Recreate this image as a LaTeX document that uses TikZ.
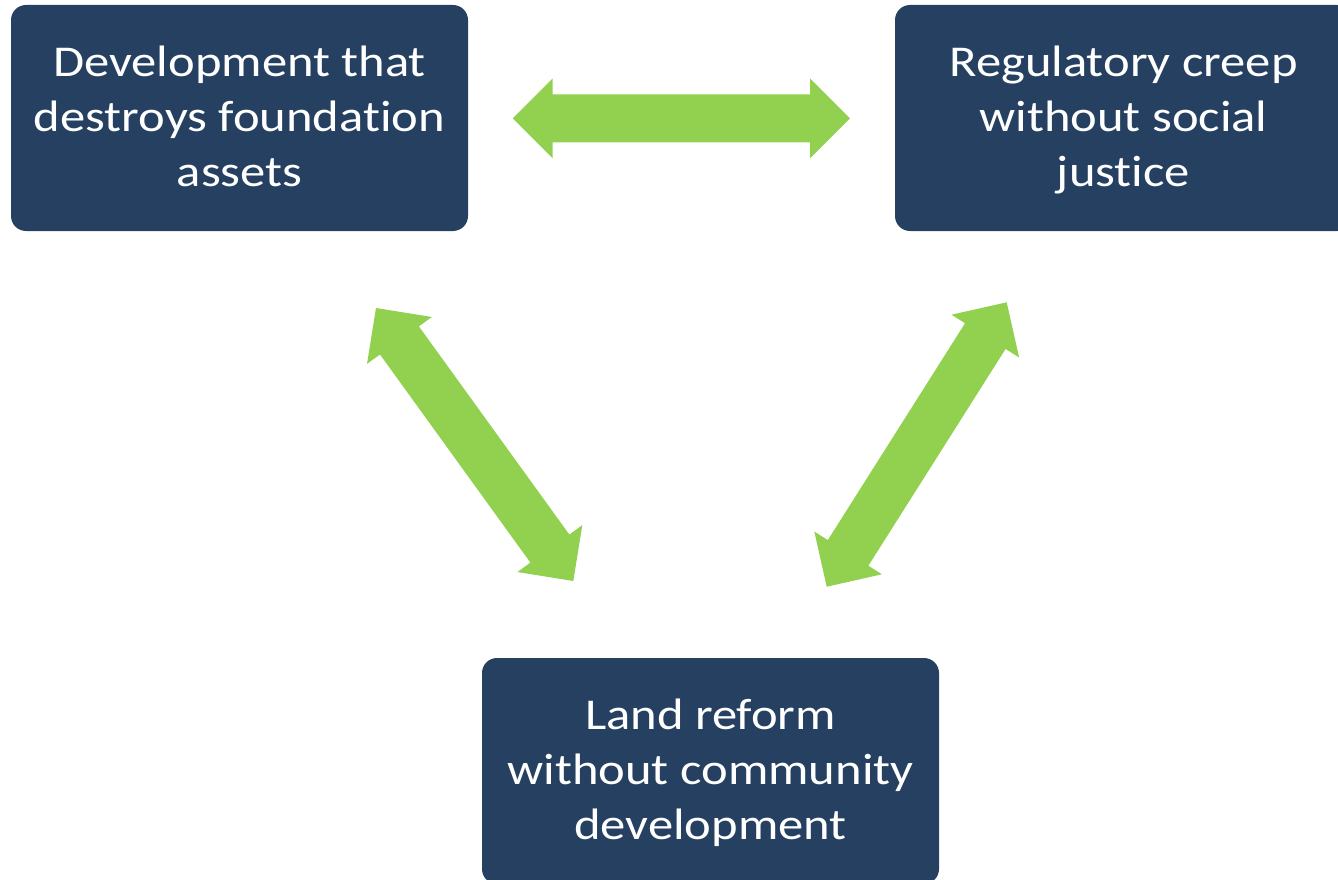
\documentclass[tikz,border=0pt]{standalone}
\usepackage{fontspec}
\setmainfont{Carlito}[FakeStretch=1.15, Ligatures={NoCommon}]
\usetikzlibrary{calc}
\definecolor{boxnavy}{HTML}{254061}
\definecolor{arrowgreen}{HTML}{92D050}
\tikzset{
  issuebox/.style={fill=boxnavy, text=white, rounded corners=15pt,
    minimum width=457pt, minimum height=226pt, align=center, inner sep=0pt,
    font=\fontsize{44}{55}\selectfont},
  boxtext/.style={yshift=-2pt, text=white, align=center, inner sep=0pt,
    font=\fontsize{44}{55}\selectfont}
}
\newcommand{\dblarrow}[2]{%
  \coordinate (#1h) at ($(#1)!40pt!(#2)$);
  \coordinate (#2h) at ($(#2)!40pt!(#1)$);
  \fill[arrowgreen] (#1)
    -- ($(#1h)!40pt!90:(#2)$) -- ($(#1h)!24pt!90:(#2)$)
    -- ($(#2h)!24pt!-90:(#1)$) -- ($(#2h)!40pt!-90:(#1)$)
    -- (#2)
    -- ($(#2h)!40pt!90:(#1)$) -- ($(#2h)!24pt!90:(#1)$)
    -- ($(#1h)!24pt!-90:(#2)$) -- ($(#1h)!40pt!-90:(#2)$)
    -- cycle;}
\begin{document}
\begin{tikzpicture}[x=1pt,y=-1pt]
\useasboundingbox (0,0) rectangle (1338,880);
\clip (0,0) rectangle (1338,880);
\node[issuebox] (dev) at (239.5,118) {};
\node[issuebox] (reg) at (1123.5,118) {};
\node[issuebox] (land) at (710.5,771) {};
\node[boxtext] (devt) at (dev.center) {\strut Development that\\\strut destroys foundation\\\strut assets};
\node[boxtext] (regt) at (reg.center) {\strut Regulatory creep\\\strut without social\\\strut justice};
\node[boxtext] (landt) at (land.center) {\strut Land reform\\\strut without community\\\strut development};
\coordinate (h1) at (512.7,118.3);
\coordinate (h2) at (850,118.3);
\coordinate (l1) at (376,308);
\coordinate (l2) at (573.3,581);
\coordinate (r1) at (1006.7,302.3);
\coordinate (r2) at (826.7,586.7);
\dblarrow{h1}{h2}
\dblarrow{l1}{l2}
\dblarrow{r1}{r2}
\end{tikzpicture}
\end{document}
